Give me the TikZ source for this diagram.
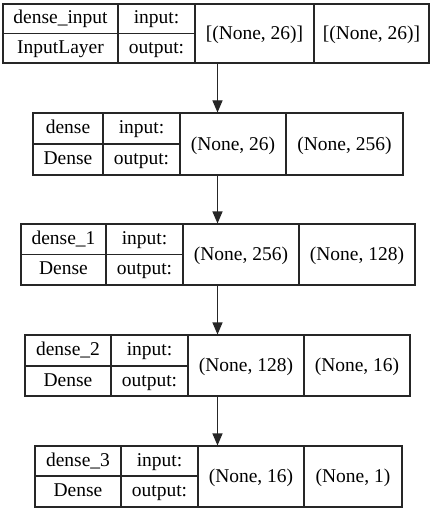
\documentclass[tikz,border=0pt]{standalone}
\usepackage{fontspec}
\setmainfont{Liberation Serif}
\usetikzlibrary{arrows.meta}
\tikzset{
  boxline/.style={draw=black!85, line width=1.1pt},
  cell/.style={inner sep=0pt, anchor=base, font=\fontsize{19.5}{21}\selectfont},
  arr/.style={draw=black!85, line width=1.1pt, -{Triangle[width=10pt,length=12pt]}}
}
% \layer{name}{x0}{x1}{x2}{x3}{x4}{ytop}{ymid}{ybot}{t1}{t2}{v1}{v2}
\newcommand{\mylayer}[9]{%
  \def\lname{#1}\def\xa{#2}\def\xb{#3}\def\xc{#4}\def\xd{#5}\def\xe{#6}%
  \def\ya{#7}\def\yb{#8}\def\yc{#9}\mylayerB}
\newcommand{\mylayerB}[4]{%
  \pgfmathsetmacro{\cw}{\xe-\xa}\pgfmathsetmacro{\ch}{\yc-\ya}%
  \pgfmathsetmacro{\cx}{(\xa+\xe)/2}\pgfmathsetmacro{\cy}{(\ya+\yc)/2}%
  \node[boxline, rectangle, minimum width=\cw pt, minimum height=\ch pt, inner sep=0pt] (\lname) at (\cx,\cy) {};
  \draw[boxline] (\xb,\ya) -- (\xb,\yc) (\xc,\ya) -- (\xc,\yc) (\xd,\ya) -- (\xd,\yc) (\xa,\yb) -- (\xc,\yb);
  \pgfmathsetmacro{\pa}{(\xa+\xb)/2}\pgfmathsetmacro{\pb}{(\xb+\xc)/2}%
  \pgfmathsetmacro{\pc}{(\xc+\xd)/2}\pgfmathsetmacro{\pd}{(\xd+\xe)/2}%
  \pgfmathsetmacro{\qa}{(\ya+\yb)/2+5}\pgfmathsetmacro{\qb}{(\yb+\yc)/2+5}\pgfmathsetmacro{\qc}{\cy+6}%
  \node[cell] (\lname-name) at (\pa,\qa) {#1};
  \node[cell] (\lname-type) at (\pa,\qb) {#2};
  \node[cell] (\lname-in) at (\pb,\qa) {input:};
  \node[cell] (\lname-out) at (\pb,\qb) {output:};
  \node[cell] (\lname-v1) at (\pc,\qc) {#3};
  \node[cell] (\lname-v2) at (\pd,\qc) {#4};
}
\begin{document}
\begin{tikzpicture}[x=1pt,y=-1pt]
\useasboundingbox (0,0) rectangle (436,513);
\fill[white] (0,0) rectangle (436,513);
\mylayer{b1}{3}{118}{195}{314}{429}{4}{33.5}{63}{dense\_input}{InputLayer}{[(None, 26)]}{[(None, 26)]}
\mylayer{b2}{33}{103}{180}{286}{403}{113}{144}{175}{dense}{Dense}{(None, 26)}{(None, 256)}
\mylayer{b3}{21}{106}{183}{299}{415}{224}{254.5}{285}{dense\_1}{Dense}{(None, 256)}{(None, 128)}
\mylayer{b4}{25}{111}{188}{304}{410}{335}{366}{396}{dense\_2}{Dense}{(None, 128)}{(None, 16)}
\mylayer{b5}{35}{121}{198}{304}{402}{446}{476}{507}{dense\_3}{Dense}{(None, 16)}{(None, 1)}
\coordinate (ax) at (217.5,0);
\draw[arr] (b1.south -| ax) -- (b2.north -| ax);
\draw[arr] (b2.south -| ax) -- (b3.north -| ax);
\draw[arr] (b3.south -| ax) -- (b4.north -| ax);
\draw[arr] (b4.south -| ax) -- (b5.north -| ax);
\end{tikzpicture}
\end{document}
